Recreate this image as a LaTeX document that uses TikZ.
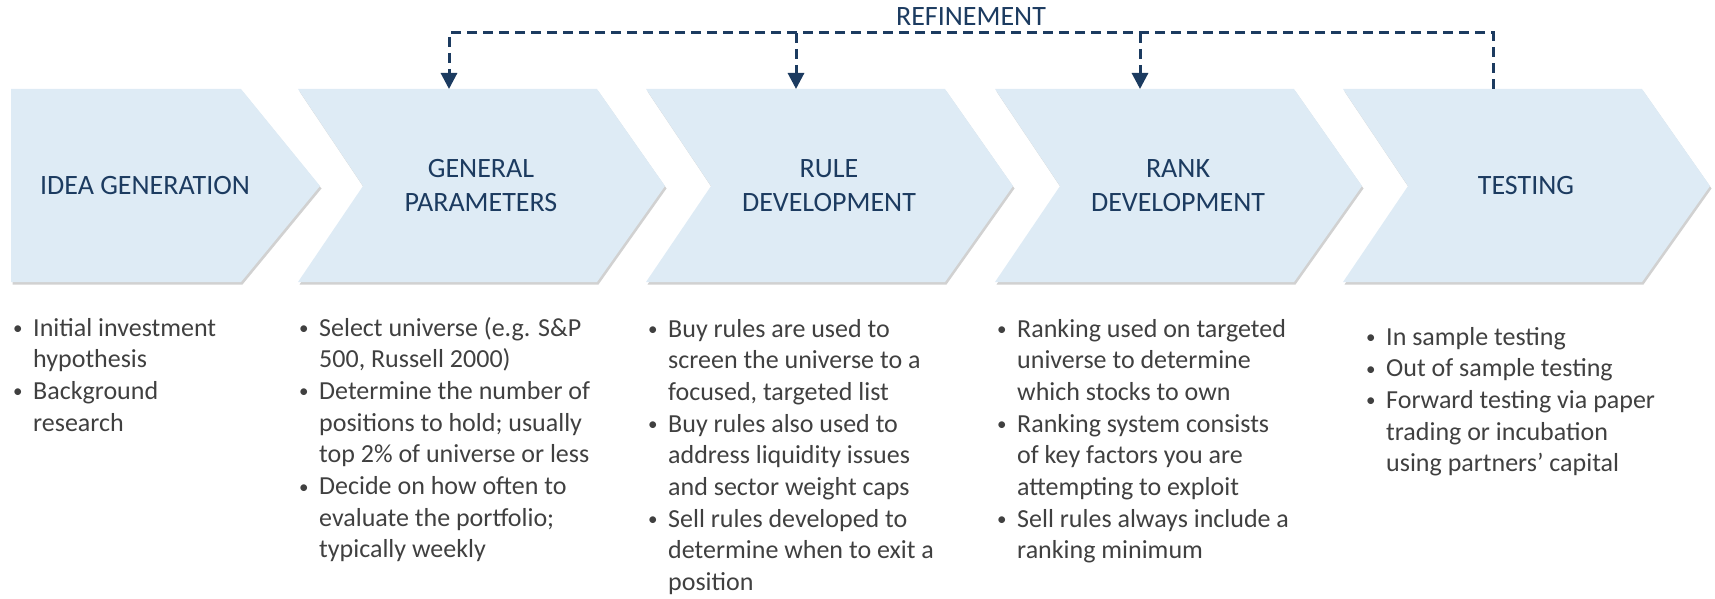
\documentclass[tikz,border=0pt]{standalone}
\usepackage{fontspec}
\setmainfont{Carlito}
\usepackage{tikz}
\usetikzlibrary{arrows.meta,shadows}

\definecolor{chevfill}{HTML}{DEEBF5}
\definecolor{navy}{HTML}{1C3B60}
\definecolor{bodygray}{HTML}{404040}

\newcommand{\bul}{\makebox[20pt][l]{\raisebox{1.5pt}{\fontsize{19}{19}\selectfont\textbullet}}}
\newcommand{\ind}{\makebox[20pt]{}}

\tikzset{
  chev/.style={fill=chevfill, drop shadow={shadow xshift=1.5pt, shadow yshift=-2.5pt, opacity=0.3, fill=black!60}},
  title/.style={text=navy, font=\fontsize{28}{34}\selectfont, align=center, inner sep=0pt},
  refine/.style={draw=navy, line width=3pt, dash pattern=on 10pt off 6pt},
  tip/.style={-{Triangle[width=16pt,length=16pt]}, navy},
  % base of a list node is the baseline of its last line
  bullets/.style={text=bodygray, font=\fontsize{26}{31.7}\selectfont, align=left, anchor=base west, inner sep=0pt}
}

\begin{document}
\begin{tikzpicture}[x=1pt, y=-1pt]
  \useasboundingbox (0,0) rectangle (1715,599);
  % chevrons
  \path[chev] (11,89) -- (241,89) -- (320,186) -- (241,282) -- (11,282) -- cycle;
  \foreach \L in {298,646,995,1343}
    \path[chev] (\L,89) -- ++(299,0) -- ++(68,97) -- ++(-68,96) -- ++(-299,0) -- ++(65,-96) -- cycle;
  \node[title] (idea) at (145,186) {IDEA GENERATION};
  \node[title] (params) at (481,186) {GENERAL\\PARAMETERS};
  \node[title] (rule) at (829,186) {RULE\\DEVELOPMENT};
  \node[title] (rank) at (1178,186) {RANK\\DEVELOPMENT};
  \node[title] (test) at (1526,186) {TESTING};
  % refinement loop
  \node[title] (refinement) at (971,17) {REFINEMENT};
  \coordinate (params-top) at (449,89);
  \coordinate (rule-top) at (796,89);
  \coordinate (rank-top) at (1140,89);
  \coordinate (test-top) at (1493,89);
  \coordinate (loop) at (1493,33);
  \draw[refine,tip] (test-top) -- (loop) -| (params-top);
  \draw[refine,tip] (rule-top |- loop) -- (rule-top);
  \draw[refine,tip] (rank-top |- loop) -- (rank-top);
  % bullet lists
  \node[bullets] (idea-list) at (13,431.1) {\bul Initial investment\\ \ind hypothesis\\ \bul Background\\ \ind research};
  \node[bullets] (params-list) at (299,557.9) {\bul Select universe (e.g. S\&P\\ \ind 500, Russell 2000)\\
    \bul Determine the number of\\ \ind positions to hold; usually\\ \ind top 2\% of universe or less\\
    \bul Decide on how often to\\ \ind evaluate the portfolio;\\ \ind typically weekly};
  \node[bullets] (rule-list) at (648,590.6) {\bul Buy rules are used to\\ \ind screen the universe to a\\ \ind focused, targeted list\\
    \bul Buy rules also used to\\ \ind address liquidity issues\\ \ind and sector weight caps\\
    \bul Sell rules developed to\\ \ind determine when to exit a\\ \ind position};
  \node[bullets] (rank-list) at (997,558.9) {\bul Ranking used on targeted\\ \ind universe to determine\\ \ind which stocks to own\\
    \bul Ranking system consists\\ \ind of key factors you are\\ \ind attempting to exploit\\
    \bul Sell rules always include a\\ \ind ranking minimum};
  \node[bullets] (test-list) at (1366,471.8) {\bul In sample testing\\ \bul Out of sample testing\\
    \bul Forward testing via paper\\ \ind trading or incubation\\ \ind using partners’ capital};
\end{tikzpicture}
\end{document}
